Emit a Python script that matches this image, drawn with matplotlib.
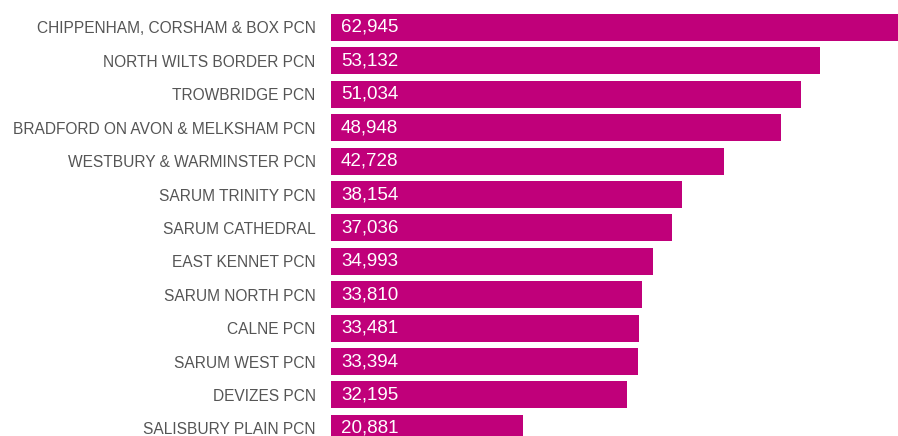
import matplotlib
matplotlib.use("Agg")
import matplotlib.pyplot as plt

categories = [
    "CHIPPENHAM, CORSHAM & BOX PCN",
    "NORTH WILTS BORDER PCN",
    "TROWBRIDGE PCN",
    "BRADFORD ON AVON & MELKSHAM PCN",
    "WESTBURY & WARMINSTER PCN",
    "SARUM TRINITY PCN",
    "SARUM CATHEDRAL",
    "EAST KENNET PCN",
    "SARUM NORTH PCN",
    "CALNE PCN",
    "SARUM WEST PCN",
    "DEVIZES PCN",
    "SALISBURY PLAIN PCN",
]
values = [62945, 53132, 51034, 48948, 42728, 38154, 37036, 34993, 33810, 33481, 33394, 32195, 20881]

plt.rcParams['font.family'] = ['Liberation Sans', 'DejaVu Sans']

fig = plt.figure(figsize=(8.98, 4.36), dpi=100)
ax = fig.add_axes([331/898, 0, 1 - 331/898, 1])

pos = list(range(len(categories)))
ax.barh(pos, values, height=0.81, color="#C0007A")
ax.set_xlim(0, 61610)
ax.set_ylim(12.23, -0.823)
ax.set_yticks(pos)
ax.set_yticklabels(categories, fontsize=11.2, color="#555555")
ax.tick_params(axis='y', length=0, pad=11)
ax.set_xticks([])
for s in ax.spines.values():
    s.set_visible(False)

for p, v in zip(pos, values):
    ax.text(1090, p, f"{v:,}", color="white", fontsize=13.5, va="center", ha="left")

fig.savefig("out.png", dpi=100)
